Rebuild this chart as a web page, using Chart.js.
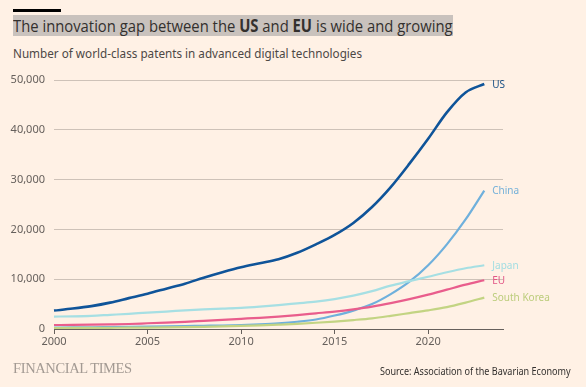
<!DOCTYPE html>
<html>
<head>
<meta charset="utf-8">
<script src="https://cdn.jsdelivr.net/npm/chart.js@4"></script>
<style>
body{margin:0;background:#fff1e5;width:586px;height:387px;overflow:hidden;position:relative;font-family:"Noto Sans",sans-serif;color:#33302e}
#bar{position:absolute;left:13px;top:9px;width:48px;height:3px;background:#000}
#title{position:absolute;left:13px;top:15px;height:21px;line-height:21px;background:#c9c2bd;font-family:"Open Sans",sans-serif;font-weight:400;font-size:17px;white-space:nowrap;transform-origin:0 0;color:#33302e}
#title b{font-weight:bold}
#sub{position:absolute;left:13px;top:45px;font-size:12px;white-space:nowrap;color:#4d4845;transform-origin:0 0}
#wrap{position:absolute;left:0;top:0;width:586px;height:387px}
#ft{position:absolute;left:13px;top:360px;font-family:"Liberation Serif",serif;font-size:15px;color:#a39a93;letter-spacing:-0.4px;transform-origin:0 0}
#src{position:absolute;left:380px;top:364px;font-size:10px;color:#33302e;white-space:nowrap;transform-origin:0 0}
</style>
</head>
<body>
<div id="bar"></div>
<div id="title">The innovation gap between the <b>US</b> and <b>EU</b> is wide and growing</div>
<div id="sub">Number of world-class patents in advanced digital technologies</div>
<div id="wrap"><canvas id="c"></canvas></div>
<div id="ft">FINANCIAL TIMES</div>
<div id="src">Source: Association of the Bavarian Economy</div>
<script>
var years=[2000,2001,2002,2003,2004,2005,2006,2007,2008,2009,2010,2011,2012,2013,2014,2015,2016,2017,2018,2019,2020,2021,2022,2023];
var us=[3700,4100,4600,5300,6200,7100,8100,9100,10300,11400,12400,13200,14000,15300,17000,18900,21300,24500,28500,33200,38200,43500,47500,49200];
var china=[300,320,350,400,450,500,550,600,650,700,800,950,1150,1450,1900,2700,3700,5000,7000,9500,12800,17000,22000,27800];
var japan=[2500,2550,2650,2850,3050,3300,3500,3750,3950,4100,4250,4500,4800,5150,5500,6000,6700,7600,8700,9600,10500,11400,12200,12800];
var eu=[800,820,860,920,1000,1150,1300,1450,1650,1850,2050,2250,2500,2800,3150,3500,3950,4500,5200,6000,6900,7900,8900,9800];
var korea=[200,210,220,240,260,290,330,380,440,520,620,740,880,1040,1250,1500,1800,2150,2650,3200,3750,4400,5300,6300];
var yTicks=[0,10000,20000,30000,40000,50000];
var xTicks=[2000,2005,2010,2015,2020];
var names=['South Korea','EU','Japan','China','US'];
var colors=['#c3d483','#e95d8c','#a6dfe3','#6fb0dc','#0f5499'];
var labelColors=['#bccd7c','#e25786','#a2dde2','#75b1d9','#174f85'];

// squeeze text blocks to the reference widths
function fit(id,w){var e=document.getElementById(id);e.style.transform='scaleX('+(w/e.offsetWidth)+')';}
fit('title',440);fit('sub',349);fit('ft',119);fit('src',191);

function pts(arr){var o=[];for(var i=0;i<arr.length;i++)o.push({x:years[i],y:arr[i]});return o;}
var series=[korea,eu,japan,china,us];
var ds=[];
for(var i=0;i<series.length;i++){
  ds.push({label:names[i],data:pts(series[i]),borderColor:colors[i],backgroundColor:colors[i],borderWidth:i==4?2.6:2.2,pointRadius:0,cubicInterpolationMode:'monotone',fill:false,clip:false});
}

var endLabels={id:'endLabels',afterDatasetsDraw:function(ch){
  var ctx=ch.ctx;ctx.save();
  ctx.font='10px "Noto Sans"';ctx.textBaseline='middle';ctx.textAlign='left';
  for(var i=0;i<ch.data.datasets.length;i++){
    var m=ch.getDatasetMeta(i);var p=m.data[m.data.length-1];
    ctx.fillStyle=labelColors[i];
    ctx.fillText(names[i],p.x+8,p.y+1);
  }
  ctx.restore();
}};

new Chart(document.getElementById('c'),{
  type:'line',
  data:{datasets:ds},
  options:{responsive:true,maintainAspectRatio:false,animation:false,
    layout:{padding:{top:80,right:83,bottom:0,left:0}},
    plugins:{legend:{display:false},tooltip:{enabled:false}},
    scales:{
      x:{type:'linear',min:2000,max:2024,
        afterBuildTicks:function(s){s.ticks=xTicks.map(function(v){return {value:v};});},
        afterFit:function(s){s.height=58;},
        grid:{drawOnChartArea:false,drawTicks:true,tickLength:5,color:'#66605c'},
        border:{display:true,color:'#66605c',width:1},
        ticks:{color:'#66605c',font:{family:'Noto Sans',size:11},padding:1,maxRotation:0,callback:function(v){return String(v);}}
      },
      y:{min:0,max:50000,
        afterBuildTicks:function(s){s.ticks=yTicks.map(function(v){return {value:v};});},
        afterFit:function(s){s.width=54;},
        grid:{drawTicks:false,color:function(c){return c.tick&&c.tick.value===0?'rgba(0,0,0,0)':'#cec2b8';}},
        border:{display:false},
        ticks:{color:'#66605c',font:{family:'Noto Sans',size:11},padding:9,callback:function(v){return v.toLocaleString('en-US');}}
      }
    }
  },
  plugins:[endLabels]
});
</script>
</body>
</html>
